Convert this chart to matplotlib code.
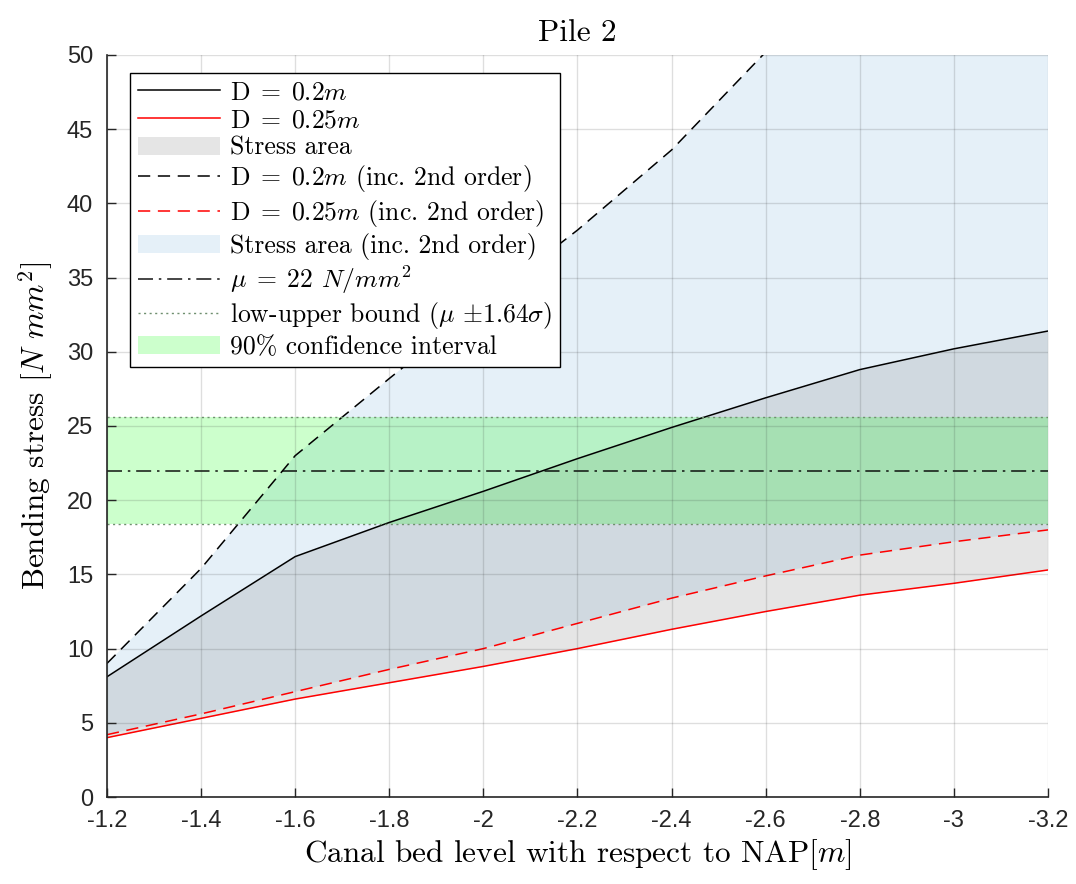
import numpy as np
import matplotlib
matplotlib.use('Agg')
import matplotlib.pyplot as plt
from matplotlib.lines import Line2D
from matplotlib.patches import Patch

plt.rcParams['mathtext.fontset'] = 'cm'
plt.rcParams['axes.unicode_minus'] = False
plt.rcParams['axes.formatter.use_mathtext'] = False

#canal bed level (x) and bending stress values
depth = [-1.2, -1.4, -1.6, -1.8, -2.0, -2.2, -2.4, -2.6, -2.8, -3.0, -3.2]
d20 = [8.1, 12.2, 16.2, 18.5, 20.6, 22.8, 24.9, 26.9, 28.8, 30.2, 31.4]
d25 = [4.0, 5.3, 6.6, 7.7, 8.8, 10.0, 11.3, 12.5, 13.6, 14.4, 15.3]
d20_2nd = [9.0, 15.4, 23.0, 28.2, 33.3, 38.2, 43.6, 50.2, 57.0, 64.0, 71.0]
d25_2nd = [4.2, 5.6, 7.1, 8.6, 10.0, 11.7, 13.4, 14.9, 16.3, 17.2, 18.0]

mu = 22.0
sigma = 2.2
xticks = [-1.2, -1.4, -1.6, -1.8, -2.0, -2.2, -2.4, -2.6, -2.8, -3.0, -3.2]
yticks = [0, 5, 10, 15, 20, 25, 30, 35, 40, 45, 50]

gray_fill = (0.5, 0.5, 0.5)
blue_fill = (0.0, 0.447, 0.741)
green_fill = (0.0, 1.0, 0.0)
bound_col = '#6f8f6f'
txt = 'cmr10'

fig = plt.figure(figsize=(10.76, 8.84), dpi=100)
ax = fig.add_axes([0.0994, 0.0984, 0.8746, 0.8394])

#stress areas
ax.fill_between(depth, d25_2nd, d20_2nd, color=blue_fill, alpha=0.1, lw=0)
ax.fill_between(depth, d25, d20, color=gray_fill, alpha=0.2, lw=0)

lo = mu - 1.64 * sigma
hi = mu + 1.64 * sigma
ax.fill_between([xticks[0], xticks[-1]], [lo, lo], [hi, hi], color=green_fill, alpha=0.2, lw=0)

ax.plot(depth, d20, color='k', lw=1.1)
ax.plot(depth, d25, color='r', lw=1.1)
ax.plot(depth, d20_2nd, color='k', lw=1.1, dashes=(8, 5))
ax.plot(depth, d25_2nd, color='r', lw=1.1, dashes=(8, 5))
ax.plot([xticks[0], xticks[-1]], [mu, mu], color='k', lw=1.2, dashes=(9, 3.5, 1.5, 3.5), alpha=0.85)
ax.plot([xticks[0], xticks[-1]], [lo, lo], color=bound_col, lw=1.0, dashes=(1.5, 2.5))
ax.plot([xticks[0], xticks[-1]], [hi, hi], color=bound_col, lw=1.0, dashes=(1.5, 2.5))

ax.set_xlim(-1.2, -3.2)
ax.set_ylim(0, 50)
ax.set_xticks(xticks)
ax.set_yticks(yticks)
ax.set_xticklabels([f'{v:g}' for v in xticks])
ax.set_yticklabels([f'{v:g}' for v in yticks])
for lab in ax.get_xticklabels() + ax.get_yticklabels():
    lab.set_fontfamily('Liberation Sans')
    lab.set_fontsize(17)
    lab.set_color('#262626')
ax.tick_params(direction='in', length=6.5, width=1.0, color='#262626')
ax.tick_params(axis='x', pad=9)
ax.tick_params(axis='y', pad=10)

ax.grid(True, color=(0.15, 0.15, 0.15), alpha=0.15, lw=1.0)
ax.set_axisbelow(False)
for s in ['top', 'right']:
    ax.spines[s].set_visible(False)
for s in ['left', 'bottom']:
    ax.spines[s].set_color('#262626')
    ax.spines[s].set_linewidth(1.2)

ax.set_title('Pile 2', family=txt, fontsize=22.5, pad=10)
ax.set_xlabel('Canal bed level with respect to NAP$[m]$', family=txt, fontsize=22.5, labelpad=4)
ax.set_ylabel('Bending stress $[N\\ mm^2]$', family=txt, fontsize=22.5, labelpad=8)

handles = [
    Line2D([], [], color='k', lw=1.1),
    Line2D([], [], color='r', lw=1.1),
    Patch(facecolor=gray_fill, alpha=0.2, lw=0),
    Line2D([], [], color='k', lw=1.1, dashes=(8, 5)),
    Line2D([], [], color='r', lw=1.1, dashes=(8, 5)),
    Patch(facecolor=blue_fill, alpha=0.1, lw=0),
    Line2D([], [], color='k', lw=1.2, dashes=(9, 3.5, 1.5, 3.5), alpha=0.85),
    Line2D([], [], color=bound_col, lw=1.0, dashes=(1.5, 2.5)),
    Patch(facecolor=green_fill, alpha=0.2, lw=0),
]
eq = '$\\;=\\;$'
labels = [
    'D' + eq + '0.2$m$',
    'D' + eq + '0.25$m$',
    'Stress area',
    'D' + eq + '0.2$m$ (inc. 2nd order)',
    'D' + eq + '0.25$m$ (inc. 2nd order)',
    'Stress area (inc. 2nd order)',
    '$\\mu$' + eq + '22 $N/mm^2$',
    'low-upper bound ($\\mu$ $\\pm$1.64$\\sigma$)',
    '90% confidence interval',
]
leg = ax.legend(handles, labels, loc='upper left', bbox_to_anchor=(0.0244, 0.9757),
                borderaxespad=0, prop={'family': txt, 'size': 18.5},
                handlelength=3.2, handletextpad=0.4, labelspacing=0.15,
                borderpad=0.3, fancybox=False, framealpha=1, edgecolor='k')
leg.get_frame().set_linewidth(1.0)

fig.savefig('out.png', dpi=100)
